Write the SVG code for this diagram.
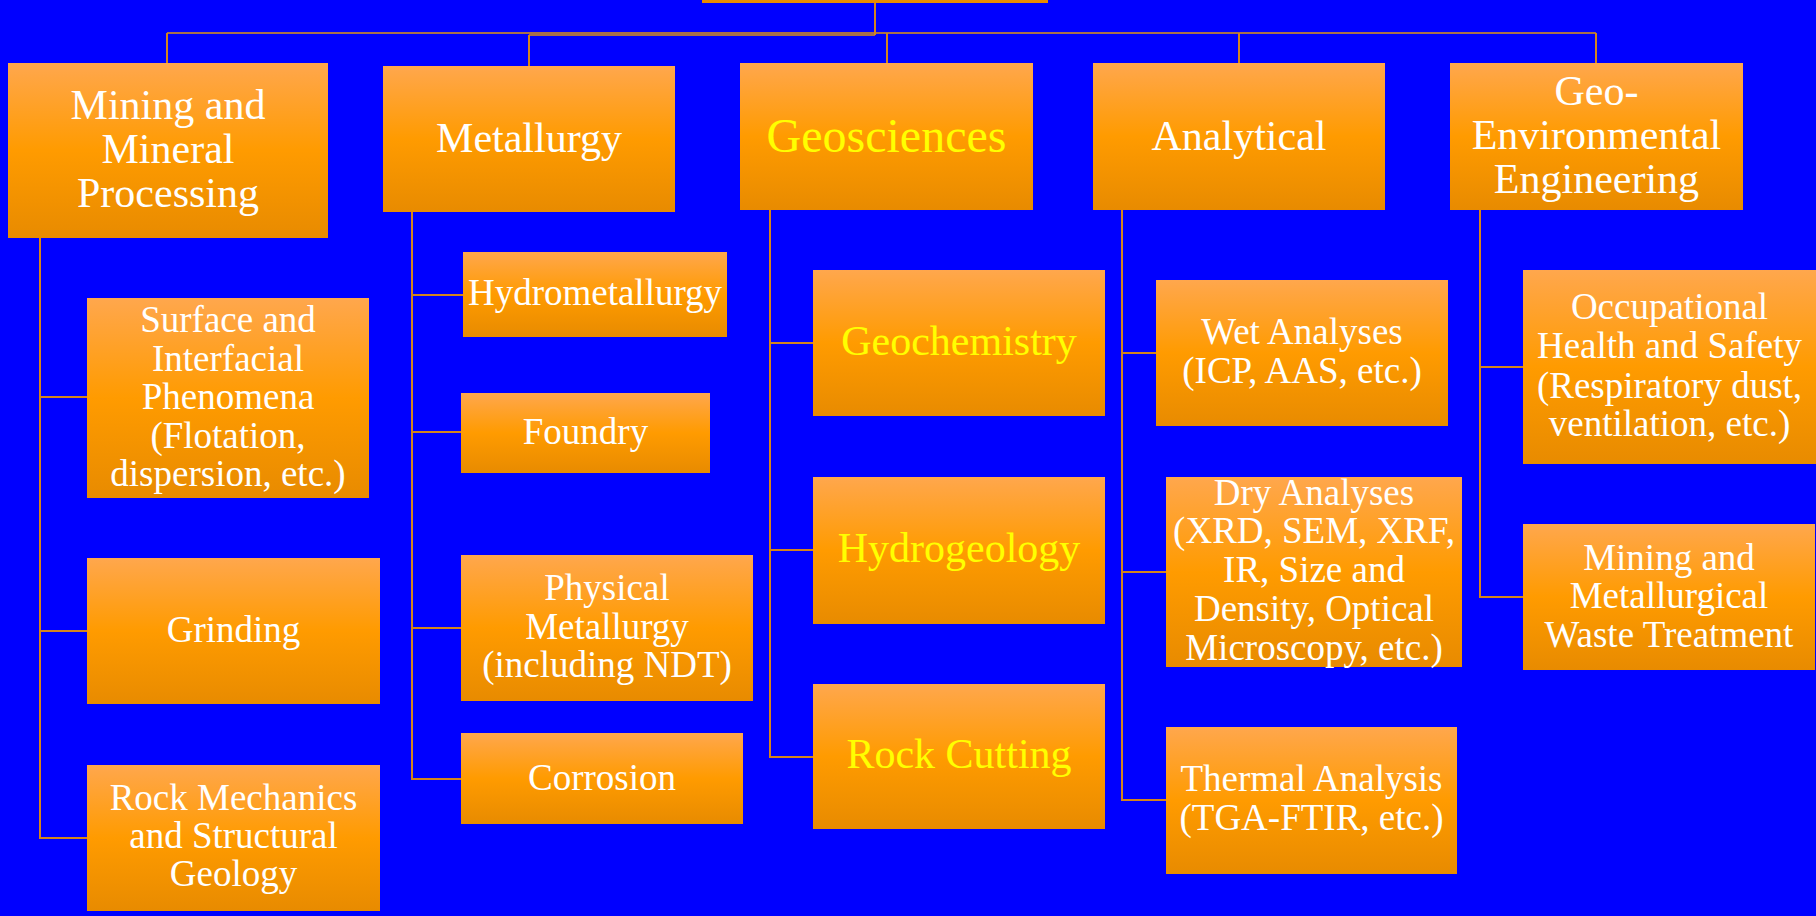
<svg xmlns="http://www.w3.org/2000/svg" width="1816" height="916" viewBox="0 0 1816 916">
<defs>
<linearGradient id="g" x1="0" y1="0" x2="0" y2="1">
<stop offset="0" stop-color="#FFA74D"/>
<stop offset="0.5" stop-color="#FF9B00"/>
<stop offset="1" stop-color="#E88B00"/>
</linearGradient>
<style>
.box{fill:url(#g);}
.t{font-family:"Liberation Serif","Times New Roman",serif;fill:#FFFFFF;text-anchor:middle;}
.y{fill:#FFFF00;}
.h{font-size:42px;}
.hg{font-size:48px;}
.c{font-size:37px;}
.cg{font-size:42px;}
.ln{fill:none;stroke:#D4841C;stroke-width:2;}
.ln2{fill:none;stroke:#A8704A;stroke-width:2;}
</style>
</defs>
<rect width="1816" height="916" fill="#0000FF"/>
<g id="connectors">
<path class="ln2" d="M167,33 H1596"/>
<path class="ln2" d="M529,35 H875"/>
<path class="ln" d="M875,3 V35"/>
<path class="ln" d="M529,35 V66"/>
<path class="ln" d="M167,33 V63"/>
<path class="ln" d="M887,33 V63"/>
<path class="ln" d="M1239,33 V63"/>
<path class="ln" d="M1596,33 V63"/>
<path class="ln" d="M40,238 V838 H87 M40,397 H87 M40,631 H87"/>
<path class="ln" d="M412,212 V779 H461 M412,295 H463 M412,432 H461 M412,628 H461"/>
<path class="ln" d="M770,210 V757 H813 M770,343 H813 M770,550 H813"/>
<path class="ln" d="M1122,210 V800 H1166 M1122,353 H1156 M1122,572 H1166"/>
<path class="ln" d="M1480,210 V597 H1523 M1480,367 H1523"/>
</g>
<g id="title"><rect class="box" x="702" y="-120" width="346" height="123"/></g>
<g id="mining"><rect class="box" x="8" y="63" width="320" height="175"/>
<text class="t h" x="168"><tspan x="168" y="119">Mining and</tspan><tspan x="168" y="163">Mineral</tspan><tspan x="168" y="207">Processing</tspan></text></g>
<g id="metallurgy"><rect class="box" x="383" y="66" width="292" height="146"/>
<text class="t h" x="529" y="152">Metallurgy</text></g>
<g id="geosciences"><rect class="box" x="740" y="63" width="293" height="147"/>
<text class="t hg y" x="886.5" y="152">Geosciences</text></g>
<g id="analytical"><rect class="box" x="1093" y="63" width="292" height="147"/>
<text class="t h" x="1239" y="150">Analytical</text></g>
<g id="geoenv"><rect class="box" x="1450" y="63" width="293" height="147"/>
<text class="t h"><tspan x="1596.5" y="105">Geo-</tspan><tspan x="1596.5" y="149">Environmental</tspan><tspan x="1596.5" y="193">Engineering</tspan></text></g>
<g id="surface"><rect class="box" x="87" y="298" width="282" height="200"/>
<text class="t c"><tspan x="228" y="332">Surface and</tspan><tspan x="228" y="371">Interfacial</tspan><tspan x="228" y="409">Phenomena</tspan><tspan x="228" y="448">(Flotation,</tspan><tspan x="228" y="486">dispersion, etc.)</tspan></text></g>
<g id="grinding"><rect class="box" x="87" y="558" width="293" height="146"/>
<text class="t c" x="233.5" y="642">Grinding</text></g>
<g id="rockmech"><rect class="box" x="87" y="765" width="293" height="146"/>
<text class="t c"><tspan x="233.5" y="810">Rock Mechanics</tspan><tspan x="233.5" y="848">and Structural</tspan><tspan x="233.5" y="886">Geology</tspan></text></g>
<g id="hydromet"><rect class="box" x="463" y="252" width="264" height="85"/>
<text class="t c" x="595" y="305">Hydrometallurgy</text></g>
<g id="foundry"><rect class="box" x="461" y="393" width="249" height="80"/>
<text class="t c" x="585.5" y="444">Foundry</text></g>
<g id="physical"><rect class="box" x="461" y="555" width="292" height="146"/>
<text class="t c"><tspan x="607" y="600">Physical</tspan><tspan x="607" y="639">Metallurgy</tspan><tspan x="607" y="677">(including NDT)</tspan></text></g>
<g id="corrosion"><rect class="box" x="461" y="733" width="282" height="91"/>
<text class="t c" x="602" y="790">Corrosion</text></g>
<g id="geochem"><rect class="box" x="813" y="270" width="292" height="146"/>
<text class="t cg y" x="959" y="355">Geochemistry</text></g>
<g id="hydrogeo"><rect class="box" x="813" y="477" width="292" height="147"/>
<text class="t cg y" x="959" y="562">Hydrogeology</text></g>
<g id="rockcut"><rect class="box" x="813" y="684" width="292" height="145"/>
<text class="t cg y" x="959" y="768">Rock Cutting</text></g>
<g id="wet"><rect class="box" x="1156" y="280" width="292" height="146"/>
<text class="t c"><tspan x="1302" y="344">Wet Analyses</tspan><tspan x="1302" y="383">(ICP, AAS, etc.)</tspan></text></g>
<g id="dry"><rect class="box" x="1166" y="477" width="296" height="190"/>
<text class="t c"><tspan x="1314" y="505">Dry Analyses</tspan><tspan x="1314" y="543">(XRD, SEM, XRF,</tspan><tspan x="1314" y="582">IR, Size and</tspan><tspan x="1314" y="621">Density, Optical</tspan><tspan x="1314" y="660">Microscopy, etc.)</tspan></text></g>
<g id="thermal"><rect class="box" x="1166" y="727" width="291" height="147"/>
<text class="t c"><tspan x="1311.5" y="791">Thermal Analysis</tspan><tspan x="1311.5" y="830">(TGA-FTIR, etc.)</tspan></text></g>
<g id="occupational"><rect class="box" x="1523" y="270" width="293" height="194"/>
<text class="t c"><tspan x="1669.5" y="319">Occupational</tspan><tspan x="1669.5" y="358">Health and Safety</tspan><tspan x="1669.5" y="398">(Respiratory dust,</tspan><tspan x="1669.5" y="436">ventilation, etc.)</tspan></text></g>
<g id="waste"><rect class="box" x="1523" y="524" width="292" height="146"/>
<text class="t c"><tspan x="1669" y="570">Mining and</tspan><tspan x="1669" y="608">Metallurgical</tspan><tspan x="1669" y="647">Waste Treatment</tspan></text></g>
</svg>
